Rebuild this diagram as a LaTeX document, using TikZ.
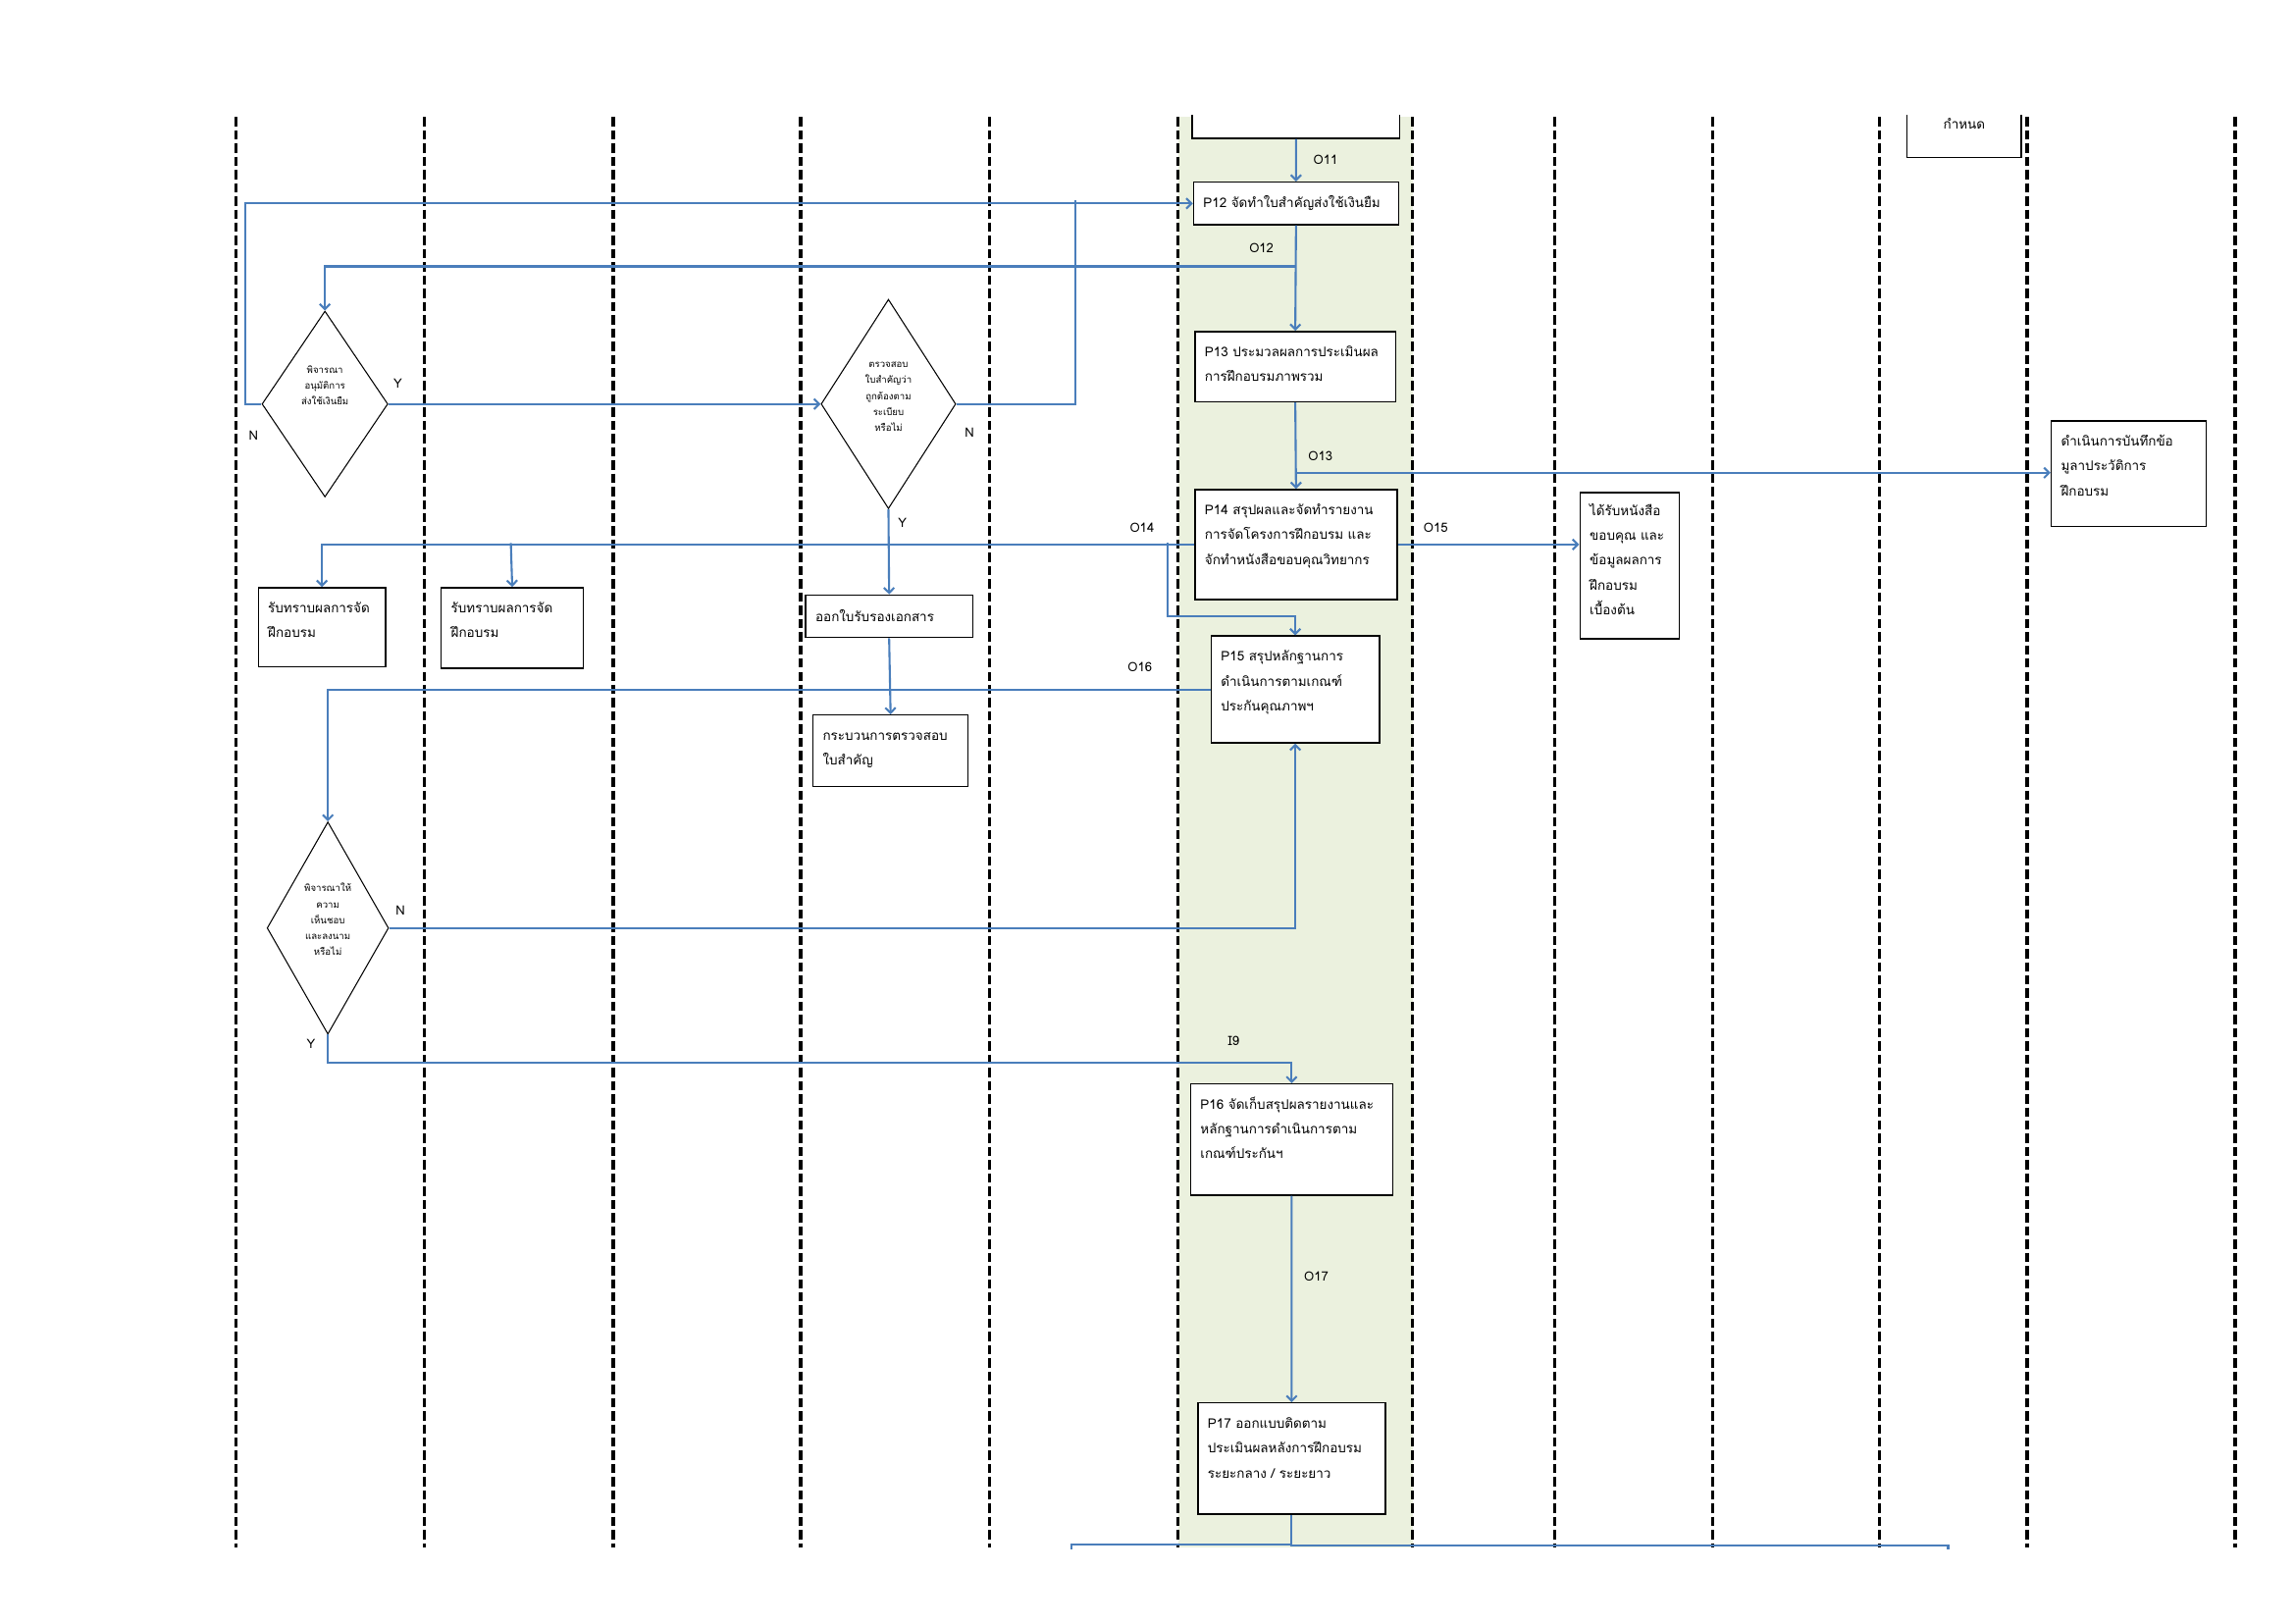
\documentclass[tikz,border=0pt]{standalone}
\usepackage{fontspec}
\newfontfamily\thaifont[Script=Thai]{Loma}
\usetikzlibrary{positioning,arrows.meta,shapes.geometric}
\definecolor{flowblue}{RGB}{74,126,187}
\definecolor{lanegreen}{RGB}{235,241,222}
\tikzset{lane/.style={line width=1.9pt, dash pattern=on 5.4pt off 2.3pt}}

\begin{document}
\begin{tikzpicture}[
  x=0.3mm, y=-0.3mm,
  sbox/.style={rectangle, draw=black, fill=white, line width=0.8pt, anchor=north west,
               inner xsep=2mm, align=left, font=\thaifont\fontsize{7.7}{14.5}\selectfont},
  tbox/.style 2 args={rectangle, draw=black, fill=white, line width=0.8pt, anchor=north west,
               inner xsep=2mm, inner ysep=1.6mm, font=\thaifont\fontsize{7.7}{14.5}\selectfont,
               execute at begin node={\begin{minipage}[t][#2][t]{#1}\raggedright\strut},
               execute at end node={\end{minipage}}},
  dec/.style={diamond, draw=black, fill=white, line width=0.6pt, inner sep=0pt},
  dtxt/.style={font=\thaifont\fontsize{5.5}{9.2}\selectfont, align=center, inner sep=0pt},
  arr/.style={-{Straight Barb[length=3pt,width=6pt]}, draw=flowblue, line width=1.2pt},
  wire/.style={draw=flowblue, line width=1.2pt},
  olbl/.style={font=\thaifont\fontsize{7.5}{10}\selectfont, inner sep=1pt},
]
 \useasboundingbox (0,0) rectangle (1568,1109);
 \begin{scope}
 \clip (0,79) rectangle (1568,1058);

 % Lanes
 \fill[lanegreen] (805,80) rectangle (965,1057);
 \foreach \x in {161,290,419,547,676,805,965,1062,1170,1284,1385,1527}
   \draw[lane] (\x,80) -- (\x,1057);

 % Green lane
 \node[rectangle, draw=black, fill=white, line width=0.8pt, anchor=north west,
       minimum width=42.6mm, minimum height=10.2mm, inner sep=0pt] (p11) at (814,60) {};
 \node[sbox, minimum width=42mm, minimum height=8.7mm, text width=38mm] (p12) at (815,124)
   {P12~จัดทำใบสำคัญส่งใช้เงินยืม};
 \node[tbox={37.1mm}{11.2mm}] (p13) at (816,226)
   {P13~ประมวลผลการประเมินผล\\การฝึกอบรมภาพรวม};
 \node[tbox={37.4mm}{19.3mm}] (p14) at (816,334)
   {P14~สรุปผลและจัดทำรายงาน\\การจัดโครงการฝึกอบรม~และ\\จักทำหนังสือขอบคุณวิทยากร};
 \node[tbox={30.5mm}{18.7mm}] (p15) at (827,434)
   {P15~สรุปหลักฐานการ\\ดำเนินการตามเกณฑ์\\ประกันคุณภาพฯ};
 \node[tbox={37.4mm}{19.6mm}] (p16) at (813,740)
   {P16~จัดเก็บสรุปผลรายงานและ\\หลักฐานการดำเนินการตาม\\เกณฑ์ประกันฯ};
 \node[tbox={34.4mm}{19.6mm}] (p17) at (818,958)
   {P17~ออกแบบติดตาม\\ประเมินผลหลังการฝึกอบรม\\ระยะกลาง~/~ระยะยาว};

 % Decisions
 \node[dec, minimum width=25.8mm, minimum height=38.1mm,
       label={[dtxt, yshift=3.9mm]center:พิจารณา\\อนุมัติการ\\ส่งใช้เงินยืม}] (dA) at (222,276) {};
 \node[dec, minimum width=27.6mm, minimum height=42.9mm,
       label={[dtxt, yshift=1.5mm]center:ตรวจสอบ\\ใบสำคัญว่า\\ถูกต้องตาม\\ระเบียบ\\หรือไม่}] (dB) at (607,276) {};
 \node[dec, minimum width=24.9mm, minimum height=43.5mm,
       label={[dtxt, yshift=1.8mm]center:พิจารณาให้\\ความ\\เห็นชอบ\\และลงนาม\\หรือไม่}] (dC) at (224,634) {};

 % Other lanes
 \node[tbox={22.1mm}{13mm}] (ackA) at (176,401) {รับทราบผลการจัด\\ฝึกอบรม};
 \node[tbox={25.1mm}{13.3mm}] (ackB) at (301,401) {รับทราบผลการจัด\\ฝึกอบรม};
 \node[sbox, minimum width=34.2mm, minimum height=8.7mm, text width=30.2mm] (cert) at (550,406)
   {ออกใบรับรองเอกสาร};
 \node[tbox={27.8mm}{11.5mm}] (verify) at (555,488) {กระบวนการตรวจสอบ\\ใบสำคัญ};
 \node[tbox={16.4mm}{27.8mm}, inner ysep=1.1mm] (thank) at (1079,336)
   {ได้รับหนังสือ\\ขอบคุณ~และ\\ข้อมูลผลการ\\ฝึกอบรม\\เบื้องต้น};
 \node[tbox={27.8mm}{18.4mm}] (record) at (1401,287)
   {ดำเนินการบันทึกข้อ\\มูลาประวัติการ\\ฝึกอบรม};
 \node[sbox, anchor=south, minimum width=23.4mm, minimum height=13.8mm, align=center] (due) at (1342,108)
   {กำหนด};

 % Junctions
 \coordinate (j12) at (885,182);
 \coordinate (jN) at (735,137);
 \coordinate (j13) at (885,323);
 \coordinate (j14) at (798,371);
 \coordinate (k14) at (798,421);
 \coordinate (jB) at (349,371);
 \coordinate (outL) at (732,1080);
 \coordinate (outR) at (1331,1080);

 % Connectors
 \draw[arr] (p11.south) -- (p12.north) node[olbl, midway, right=3mm] {O11};
 \draw[arr] (p12.south) -- (p13.north) node[olbl, pos=0.22, left=4mm] {O12};
 \draw[arr] (j12) -| (dA.north);
 \draw[arr] (dA.east) -- (dB.west) node[olbl, pos=0, above right=2.6mm and 0.5mm] {Y};
 \draw[arr] (dA.west) -- ++(-11,0) node[olbl, midway, below=5mm] {N} |- (p12.west);
 \draw[wire] (dB.east) -| (jN) node[olbl, pos=0.055, below=4.3mm] {N};
 \draw[arr] (dB.south) -- (cert.north) node[olbl, pos=0.16, right=1.4mm] {Y};
 \draw[arr] (cert.south) -- (verify.north);
 \draw[arr] (p13.south) -- (p14.north) node[olbl, pos=0.62, right=2mm] {O13};
 \draw[arr] (j13) -- (record.west |- j13);
 \draw[arr] (p14.west) -| (ackA.north) node[olbl, pos=0.03, above=2mm] {O14};
 \draw[arr] (jB) -- (ackB.north);
 \draw[arr] (j14) -- (k14) -| (p15.north);
 \draw[arr] (p14.east) -- (p14.east -| thank.west) node[olbl, pos=0.21, above=2mm] {O15};
 \draw[arr] (p15.west) -| (dC.north) node[olbl, pos=0.04, above=3mm] {O16};
 \draw[arr] (dC.east) -| (p15.south) node[olbl, pos=0, above right=2.2mm and 0.8mm] {N};
 \draw[arr] (dC.south) node[olbl, below left=0.3mm and 2mm] {Y} -- ++(0,19) -| (p16.north)
   node[olbl, pos=0.47, above=2.8mm] {I9};
 \draw[arr] (p16.south) -- (p17.north) node[olbl, pos=0.39, right=2mm] {O17};
 \draw[wire] (p17.south) -- ++(0,21) -| (outR);
 \draw[wire] (p17.south) ++(0,20) -| (outL);
 \end{scope}
\end{tikzpicture}
\end{document}
